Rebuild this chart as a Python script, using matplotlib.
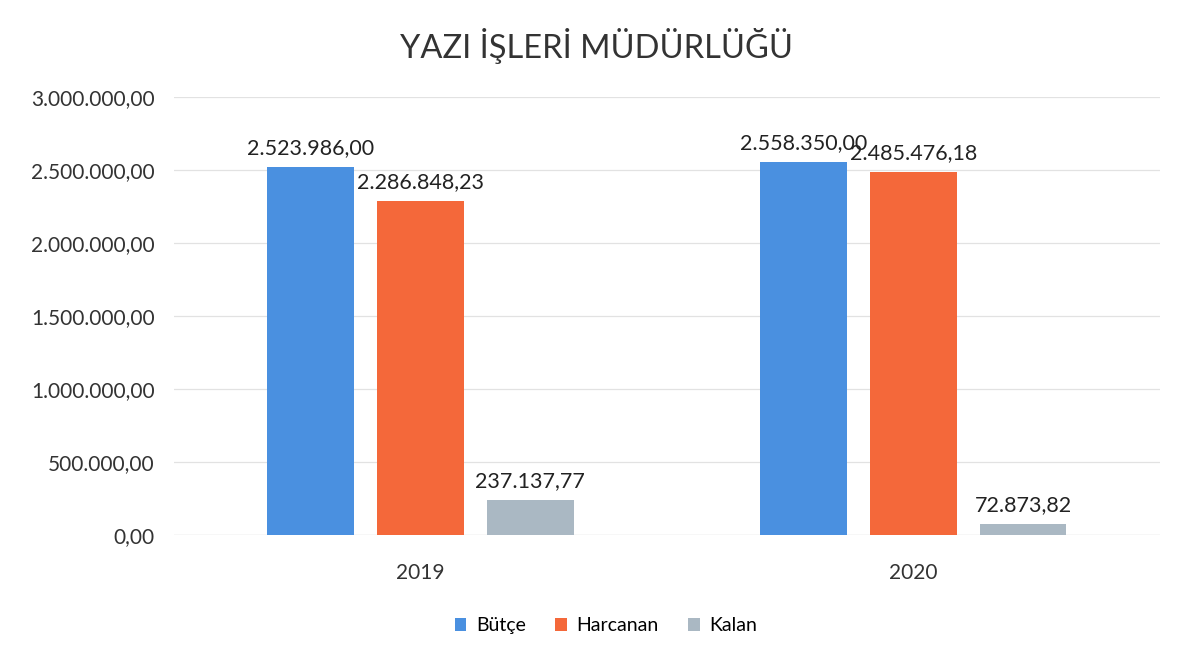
import numpy as np
import matplotlib.pyplot as plt

years = ["2019", "2020"]
butce = [2523986.00, 2558350.00]
harcanan = [2286848.23, 2485476.18]
kalan = [237137.77, 72873.82]
series_names = ["Bütçe", "Harcanan", "Kalan"]
colors = ["#4a90e0", "#f4683a", "#aab8c3"]


def tr_fmt(v):
    # turkish style: 1.234.567,89
    s = f"{v:,.2f}"
    return s.replace(",", "X").replace(".", ",").replace("X", ".")


plt.rcParams['font.family'] = ['Lato', 'DejaVu Sans']

fig = plt.figure(figsize=(11.93, 6.61), dpi=100)
ax = fig.add_axes([0.146, 0.191, 0.826, 0.662])

x = np.arange(len(years))
width = 0.176
step = 0.223

for i, (vals, name, col) in enumerate(zip([butce, harcanan, kalan], series_names, colors)):
    pos = x + (i - 1) * step
    ax.bar(pos, vals, width=width, color=col, label=name, zorder=3)
    for p, v in zip(pos, vals):
        ax.text(p, v + 60000, tr_fmt(v), ha='center', va='bottom',
                fontsize=15.5, color='#222222')

ax.set_ylim(0, 3000000)
ax.set_xlim(-0.5, 1.5)
ax.set_yticks(np.arange(0, 3000001, 500000))
ax.set_yticklabels([tr_fmt(t) for t in np.arange(0, 3000001, 500000)], fontsize=15, color='#333333')
ax.set_xticks(x)
ax.set_xticklabels(years, fontsize=15, color='#333333')
ax.tick_params(length=0, pad=14)
ax.tick_params(axis='x', pad=20)

ax.grid(axis='y', color='#e2e2e2', linewidth=0.9, zorder=0)
for s in ax.spines.values():
    s.set_visible(False)
ax.axhline(0, color='#dddddd', linewidth=0.9, zorder=2)

fig.text(0.5, 0.93, "YAZI İŞLERİ MÜDÜRLÜĞÜ", ha='center', va='center',
         fontsize=23.5, color='#333333')

leg = fig.legend(loc='center', bbox_to_anchor=(0.508, 0.053), ncol=3, frameon=False,
                 fontsize=14, handlelength=0.6, handleheight=0.6, columnspacing=1.5,
                 handletextpad=0.5)

plt.savefig("out.png")
